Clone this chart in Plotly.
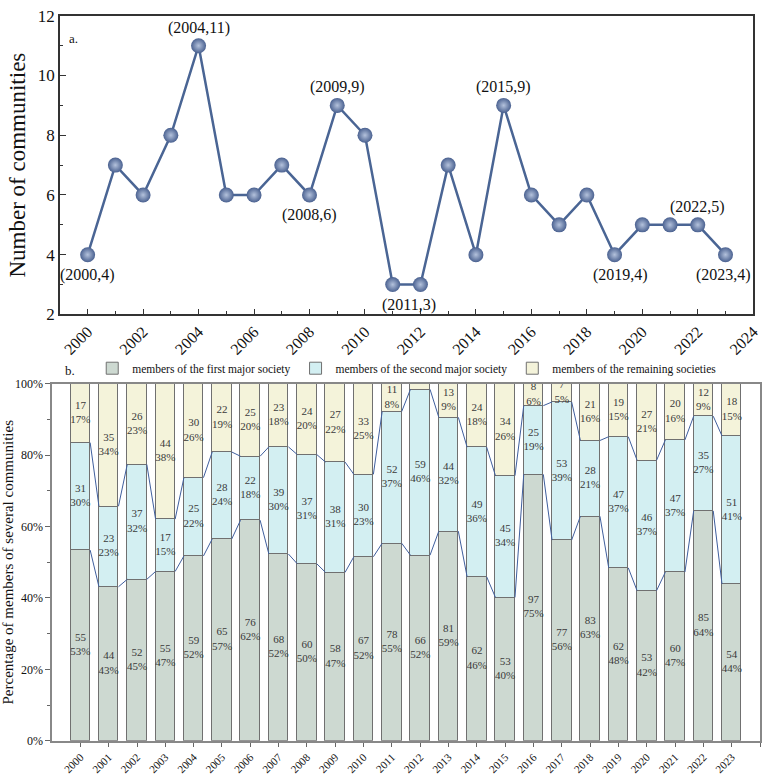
import plotly.graph_objects as go

# ---------------- data ----------------
years = list(range(2000, 2024))
communities = [4, 7, 6, 8, 11, 6, 6, 7, 6, 9, 8, 3, 3, 7, 4, 9, 6, 5, 6, 4, 5, 5, 5, 4]
labelled_years = [2000, 2004, 2008, 2009, 2011, 2015, 2019, 2022, 2023]
label_pos = ["below", "above", "below", "above", "below", "above", "below", "above", "below"]

first_major = [55, 44, 52, 55, 59, 65, 76, 68, 60, 58, 67, 78, 66, 81, 62, 53, 97, 77, 83, 62, 53, 60, 85, 54]
second_major = [31, 23, 37, 17, 25, 28, 22, 39, 37, 38, 30, 52, 59, 44, 49, 45, 25, 53, 28, 47, 46, 47, 35, 51]
remaining = [17, 35, 26, 44, 30, 22, 25, 23, 24, 27, 33, 11, 2, 13, 24, 34, 8, 7, 21, 19, 27, 20, 12, 18]

series_names = ["members of the first major society",
                "members of the second major society",
                "members of the remaining societies"]
series_colors = ["#cdd9d1", "#d3eff2", "#f4f3da"]

FONT = "Liberation Serif, Times New Roman, serif"
W, H = 773, 783

def px_x(p):
    return p / W

def px_y(p):
    return 1 - p / H

fig = go.Figure()

# ---------------- panel a ----------------
fig.add_trace(go.Scatter(
    x=years, y=communities, mode="lines+markers",
    line=dict(color="#4a6594", width=2.5),
    marker=dict(size=15, color="#4a6190",
                gradient=dict(type="radial", color="#b4c2dc"),
                line=dict(width=0)),
    xaxis="x", yaxis="y", showlegend=False, hoverinfo="x+y"))

shifts = {2011: 16, 2019: 6, 2023: -2}
for yr, pos in zip(labelled_years, label_pos):
    v = communities[years.index(yr)]
    fig.add_annotation(
        x=yr, y=v, xref="x", yref="y", text=f"({yr},{v})", showarrow=False,
        font=dict(family=FONT, size=16, color="#111"),
        yshift=(18 if pos == "above" else -20), xshift=shifts.get(yr, 0))

fig.add_annotation(x=px_x(60), y=px_y(20), xref="paper", yref="paper",
                   text="a.", showarrow=False, xanchor="left",
                   font=dict(family=FONT, size=13, color="#111"))

# ---------------- panel b ----------------
n = len(years)
totals = [a + b + c for a, b, c in zip(first_major, second_major, remaining)]
counts = [first_major, second_major, remaining]
pcts = [[100.0 * c / t for c, t in zip(cs, totals)] for cs in counts]
idx = list(range(n))
bw = 0.69

for k in range(3):
    fig.add_trace(go.Bar(
        x=idx, y=pcts[k], width=bw, name=series_names[k],
        marker=dict(color=series_colors[k], line=dict(color="#707070", width=1)),
        xaxis="x2", yaxis="y2", hoverinfo="y"))

# connector lines between bars
cum1 = pcts[0]
cum2 = [a + b for a, b in zip(pcts[0], pcts[1])]
cx, cy = [], []
for level in (cum1, cum2):
    for i in range(n - 1):
        cx += [i + bw / 2, i + 1 - bw / 2, None]
        cy += [level[i], level[i + 1], None]
fig.add_trace(go.Scatter(x=cx, y=cy, mode="lines", line=dict(color="#3f5f9e", width=1),
                         xaxis="x2", yaxis="y2", showlegend=False, hoverinfo="skip"))

# segment labels
tx, ty, tt = [], [], []
for i in range(n):
    base = 0.0
    for k in range(3):
        p = pcts[k][i]
        if p >= 3:
            tx.append(i)
            ty.append(base + p / 2)
            tt.append(f"{counts[k][i]}<br>{int(p + 0.5)}%")
        base += p
fig.add_trace(go.Scatter(x=tx, y=ty, text=tt, mode="text",
                         textfont=dict(family=FONT, size=11, color="#3a3a3a"),
                         xaxis="x2", yaxis="y2", showlegend=False, hoverinfo="skip"))

fig.add_annotation(x=px_x(56), y=px_y(371), xref="paper", yref="paper",
                   text="b.", showarrow=False, xanchor="left",
                   font=dict(family=FONT, size=13, color="#111"))

# ---------------- layout ----------------
axis_line = dict(showline=True, linecolor="#333", linewidth=1.5, mirror=True,
                 showgrid=False, zeroline=False)
fig.update_layout(
    width=W, height=H, margin=dict(l=0, r=0, t=0, b=0),
    paper_bgcolor="white", plot_bgcolor="white",
    barmode="stack", bargap=0,
    font=dict(family=FONT, color="#111"),
    xaxis=dict(domain=[px_x(53), px_x(761)], range=[1999, 2024],
               tickvals=list(range(2000, 2025, 2)), tickangle=-45,
               ticks="inside", ticklen=6, tickcolor="#333",
               minor=dict(ticks="inside", ticklen=4, dtick=1, tick0=2000, tickcolor="#333"),
               tickfont=dict(size=16), anchor="y", **axis_line),
    yaxis=dict(domain=[px_y(313), px_y(7)], range=[2, 12], dtick=2,
               ticks="inside", ticklen=6, tickcolor="#333",
               minor=dict(ticks="inside", ticklen=3, dtick=1, tickcolor="#333"),
               tickfont=dict(size=17), anchor="x",
               title=dict(text="Number of communities", font=dict(size=23), standoff=6),
               **axis_line),
    xaxis2=dict(domain=[px_x(45), px_x(768)], range=[-1, 24],
                tickvals=list(range(n + 1)), ticktext=[str(y) for y in years] + [""],
                tickangle=-45, ticks="outside", ticklen=4, tickcolor="#666",
                tickfont=dict(size=11), anchor="y2",
                showline=True, linecolor="#888", linewidth=1.5, mirror=True,
                showgrid=False, zeroline=False),
    yaxis2=dict(domain=[px_y(750), px_y(384)], range=[0, 100], dtick=20,
                ticksuffix="%", ticks="outside", ticklen=5, tickcolor="#666",
                minor=dict(ticks="outside", ticklen=3, dtick=10, tickcolor="#666"),
                tickfont=dict(size=12), anchor="x2",
                title=dict(text="Percentage of members of several communities",
                           font=dict(size=15), standoff=4),
                showline=True, linecolor="#888", linewidth=1.5, mirror=True,
                showgrid=False, zeroline=False),
    legend=dict(orientation="h", x=px_x(86), y=px_y(383), xanchor="left", yanchor="bottom",
                font=dict(family=FONT, size=11.5), bgcolor="rgba(0,0,0,0)",
                traceorder="normal"),
)

fig.write_html("out.html")
